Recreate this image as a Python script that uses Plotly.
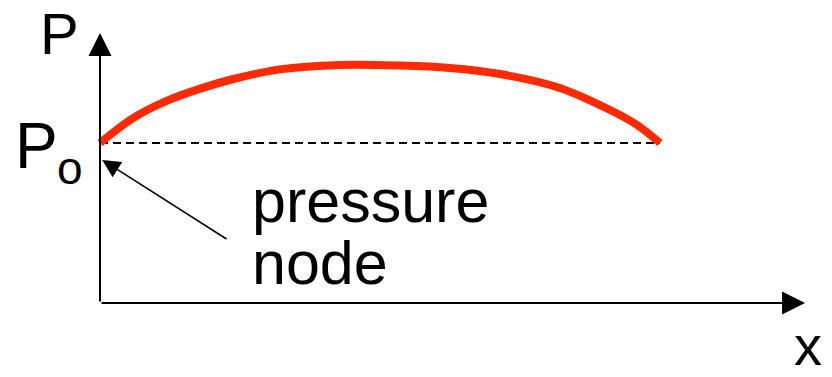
import plotly.graph_objects as go

# position along the tube (0 = open end, 1 = far end) and pressure, P0 = 1
x_pos = [0.0, 0.059, 0.120, 0.179, 0.238, 0.321, 0.429, 0.536, 0.625, 0.714, 0.821, 0.911, 0.959, 1.0]
pressure = [1.0, 1.156, 1.265, 1.340, 1.400, 1.460, 1.4875, 1.484, 1.469, 1.431, 1.344, 1.206, 1.1125, 1.0]
p0 = 1.0
p_axis_top = 1.6875
x_axis_end = 1.259
node_label_tail = (0.2286, 0.394)

W, H = 832, 377
FONT = "Liberation Sans, Arial, sans-serif"


def px(x):
    return x / W


def py(y):
    return 1 - y / H


fig = go.Figure()

# baseline P0 (dashed)
fig.add_trace(go.Scatter(x=[x_pos[0], x_pos[-1]], y=[p0, p0], mode='lines',
                         line=dict(color='black', width=2, dash='8px,5px'),
                         hoverinfo='skip'))
# pressure curve
fig.add_trace(go.Scatter(x=x_pos, y=pressure, mode='lines',
                         line=dict(color='#ff2a00', width=8, shape='spline', smoothing=1.0),
                         hoverinfo='skip'))

arrows = [
    # P axis
    dict(x=0, y=p_axis_top, ax=0, ay=0, arrowwidth=2, arrowsize=2.3),
    # x axis
    dict(x=x_axis_end, y=0, ax=0, ay=0, arrowwidth=2, arrowsize=2.3),
    # pointer to the pressure node
    dict(x=x_pos[0] + 0.004, y=p0 - 0.106, ax=node_label_tail[0], ay=node_label_tail[1],
         arrowwidth=1.5, arrowsize=2.4),
]
for a in arrows:
    fig.add_annotation(xref='x', yref='y', axref='x', ayref='y', text='',
                       showarrow=True, arrowhead=2, arrowcolor='black',
                       standoff=0, startstandoff=0, **a)

labels = [
    dict(text='P', x=38, y=34, size=58, xanchor='left'),
    dict(text='P', x=13, y=146, size=64, xanchor='left'),
    dict(text='o', x=55, y=168, size=46, xanchor='left'),
    dict(text='pressure', x=250, y=201, size=61, xanchor='left'),
    dict(text='node', x=250, y=263, size=61, xanchor='left'),
    dict(text='x', x=808, y=345, size=56, xanchor='center'),
]
for l in labels:
    fig.add_annotation(xref='paper', yref='paper', x=px(l['x']), y=py(l['y']),
                       text=l['text'], showarrow=False, xanchor=l['xanchor'], yanchor='middle',
                       font=dict(family=FONT, size=l['size'], color='black'))

fig.update_layout(
    width=W, height=H,
    margin=dict(t=0, b=0, l=0, r=0),
    paper_bgcolor='white', plot_bgcolor='white',
    showlegend=False,
    xaxis=dict(range=[-100 / 560, (W - 100) / 560], visible=False, fixedrange=True),
    yaxis=dict(range=[(303 - H) / 160, 303 / 160], visible=False, fixedrange=True),
)

fig.write_html("out.html", config={'displayModeBar': False},
               post_script="document.body.style.margin='0';document.body.style.overflow='hidden';")
